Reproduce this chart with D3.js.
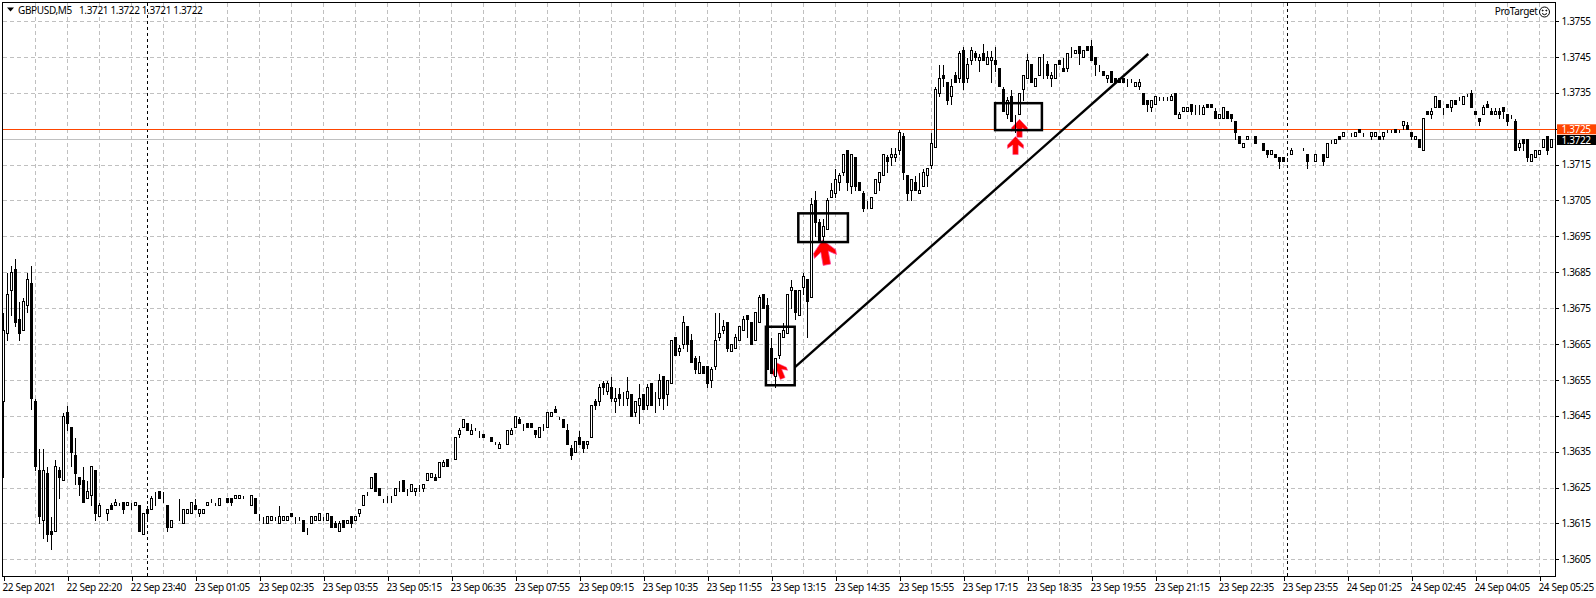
<!DOCTYPE html>
<html><head><meta charset="utf-8">
<script src="https://cdn.jsdelivr.net/npm/d3@7/dist/d3.min.js"></script>
<style>
html,body{margin:0;padding:0;background:#fff;overflow:hidden}
svg{display:block}
text{font-family:"Noto Sans",sans-serif;font-size:10px;letter-spacing:-0.35px;fill:#000}
</style></head><body><div id="chart"></div>
<script>
// Prices are stored as pips above 1.3600 and converted with toPrice
const basePrice = 1.36;
const opens = [
49,68,80,86,72,69,76,82,49,30, 16,29,13,13,30,27,46,42,34,28, 27,22,23,30,17,19,18,20,20,20, 21,20,21,20,20,12,19,19,23,24,
21,20,14,15,16,15,18,18,20,18, 18,20,22,21,20,21,22,22,22,22, 22,21,20,22,17,17,15,16,16,15, 16,16,18,16,17,16,14,15,16,16,
17,16,17,15,13,16,15,17,16,18, 20,24,25,29,25,22,21,22,23,26, 27,25,24,24,25,25,27,28,28,28, 31,33,32,33,40,42,43,40,42,41,
40,38,39,37,36,36,37,40,42,44, 42,43,43,41,39,41,42,45,47,45, 44,41,36,35,39,38,37,39,49,49, 54,52,53,49,51,51,50,51,46,48,
51,48,54,49,50,56,51,54,67,63, 65,70,66,61,57,59,59,55,59,67, 69,71,63,64,66,69,73,71,66,71, 79,76,64,56,62,67,68,80,80,73,
81,83,78,105,99,95,97,106,107,110, 113,119,109,117,110,107,104,103,107,110, 112,117,117,117,119,123,112,108,110,107, 109,112,115,120,135,140,138,134,140,139,
147,139,144,146,144,146,143,144,144,142, 136,129,134,128,129,136,139,143,137,140, 144,143,139,139,144,142,142,147,146,148, 145,148,148,145,142,141,139,141,139,139,
139,139,138,137,137,135,133,131,132,133, 134,134,133,135,128,130,130,132,131,130, 129,132,132,130,128,128,130,129,127,123, 120,122,122,123,122,121,119,118,118,117,
117,117,118,118,119,119,118,117,116,119, 118,117,122,121,123,123,123,124,123,125, 123,122,123,123,123,123,125,124,125,125, 126,126,124,122,122,119,130,129,131,133,
130,132,131,133,134,132,135,135,130,128, 129,132,130,129,130,131,129,129,127,120, 122,122,116,117,118,120,123,120];
const closes = [
69,79,85,71,68,77,83,50,31,17, 30,12,12,31,28,45,43,35,29,26, 21,24,31,18,20,19,19,19,21,20, 19,21,21,21,13,18,18,22,23,22,
21,14,16,15,16,19,19,21,19,19, 19,21,22,21,22,21,21,21,23,23, 22,21,23,18,17,17,17,17,16,17, 17,17,17,16,17,13,14,17,17,18,
17,18,14,14,15,14,16,15,17,19, 23,24,28,24,23,22,21,22,25,26, 24,25,26,25,25,26,29,29,27,32, 32,31,32,39,41,44,41,41,42,41,
39,38,38,37,37,36,41,41,45,43, 42,42,42,40,42,41,46,46,46,45, 42,37,34,38,37,36,38,48,48,53, 53,54,50,50,50,51,52,45,49,50,
47,53,48,49,55,50,55,66,62,64, 71,65,60,58,60,57,54,58,66,68, 70,64,65,67,70,72,72,65,74,78, 75,58,57,61,68,69,79,81,74,80,
84,77,104,99,94,98,105,108,111,112, 118,110,118,109,108,103,104,106,111,113, 118,116,118,118,124,113,107,111,108,108, 113,114,121,136,139,139,133,137,138,146,
138,143,147,145,145,144,145,145,143,137, 130,133,127,128,135,140,144,138,139,145, 144,140,140,143,143,141,146,147,147,146, 147,147,144,143,142,140,140,138,138,138,
138,139,138,138,138,132,132,133,134,133, 134,134,134,129,129,131,131,130,131,130, 131,131,131,128,129,131,128,128,124,121, 121,123,122,121,122,119,118,119,117,116,
116,117,119,118,119,119,116,117,118,119, 116,121,122,122,122,124,123,124,124,124, 123,122,124,124,122,124,125,124,124,125, 127,125,123,123,120,128,129,130,134,131,
130,131,133,132,134,134,135,131,129,127, 131,131,129,130,129,130,127,129,119,121, 121,117,118,119,119,122,119,122];
const highs = [
74,85,87,89,77,78,85,87,50,36, 36,31,17,33,31,46,48,42,39,28, 31,27,31,30,21,19,19,21,22,21, 21,21,21,21,20,18,20,23,24,24,
24,20,16,15,22,19,19,21,22,19, 19,21,22,21,22,21,22,22,23,23, 23,21,23,22,18,17,17,17,17,20, 17,17,18,17,17,16,14,17,17,18,
17,18,17,16,16,16,16,17,17,19, 23,24,28,29,25,22,23,23,25,27, 27,25,26,25,26,26,29,29,29,32, 33,33,32,39,42,44,43,43,42,41,
40,38,39,38,38,36,41,42,45,45, 43,43,43,41,42,43,46,46,48,45, 44,43,37,38,41,38,38,48,50,54, 55,55,56,53,53,52,56,51,49,54,
51,54,54,52,57,56,55,66,67,65, 73,70,68,62,62,59,59,59,74,74, 72,71,65,68,70,73,73,71,74,79, 79,78,67,61,68,71,79,83,80,80,
85,83,106,108,100,100,106,110,114,113, 118,119,118,117,110,108,105,106,111,113, 118,118,120,120,125,124,112,111,112,113, 114,114,124,137,143,143,138,139,141,147,
148,145,148,147,146,149,147,147,148,142, 137,134,136,129,135,140,146,143,139,145, 146,144,141,143,144,145,146,148,147,148, 147,148,150,145,143,141,140,141,139,139,
139,139,139,138,139,135,133,133,134,134, 134,134,135,135,130,131,131,132,132,132, 132,132,132,131,129,131,130,129,127,123, 121,123,122,123,122,121,119,119,118,117,
117,117,120,118,119,120,118,117,118,119, 118,121,122,122,123,124,123,124,124,125, 124,122,124,124,123,124,125,125,125,125, 127,127,124,123,122,128,130,131,134,133,
131,132,133,133,134,134,135,136,130,128, 132,133,131,131,131,131,129,129,128,122, 122,122,118,119,119,122,123,122];
const lows = [
28,66,73,70,66,69,74,47,30,15, 11,10,8,13,22,27,41,31,26,23, 21,22,20,16,17,19,16,19,20,20, 18,20,19,20,13,12,16,19,20,22,
21,13,14,15,16,15,18,18,19,17, 18,20,21,20,20,21,21,20,22,22, 22,21,20,18,16,15,15,16,16,15, 16,16,17,15,16,13,12,15,16,16,
16,16,14,14,13,14,15,14,16,17, 20,23,25,24,23,21,21,21,23,24, 24,23,24,23,24,24,27,28,27,28, 31,31,32,33,39,42,41,40,41,39,
39,38,38,37,36,36,37,40,42,43, 41,42,42,39,39,41,42,45,46,44, 42,37,33,35,37,35,36,39,47,48, 51,51,49,46,48,48,48,45,45,43,
47,47,48,46,48,47,48,54,62,62, 64,63,60,57,57,57,53,53,58,66, 68,63,63,64,66,69,67,65,66,71, 75,58,57,53,61,67,68,75,72,73,
79,67,78,95,94,94,97,106,106,108, 112,108,107,108,108,102,103,103,107,108, 112,113,115,116,118,111,105,105,108,107, 109,109,114,120,134,137,132,132,138,138,
136,138,143,144,141,144,143,138,141,137, 130,128,127,124,129,133,139,138,137,140, 139,139,137,139,143,141,141,145,146,143, 145,147,144,140,141,140,138,138,138,138,
138,137,138,137,136,132,130,130,132,133, 133,133,133,129,128,130,130,129,129,129, 129,131,131,128,128,128,128,127,122,121, 120,122,122,121,122,119,117,118,117,114,
116,116,118,118,119,119,114,117,116,119, 115,117,121,121,122,123,123,123,123,124, 123,122,122,123,122,122,124,124,124,124, 125,125,122,122,120,119,129,128,131,131,
129,131,130,132,133,132,134,131,129,126, 129,131,129,129,128,128,126,128,119,119, 119,116,116,117,118,120,118,120];

const priceTicks = ["1.3755","1.3745","1.3735","1.3725","1.3715","1.3705","1.3695","1.3685","1.3675","1.3665","1.3655","1.3645","1.3635","1.3625","1.3615","1.3605"];
const timeLabels = ["22 Sep 2021","22 Sep 22:20","22 Sep 23:40","23 Sep 01:05","23 Sep 02:35","23 Sep 03:55","23 Sep 05:15","23 Sep 06:35","23 Sep 07:55","23 Sep 09:15","23 Sep 10:35","23 Sep 11:55","23 Sep 13:15","23 Sep 14:35","23 Sep 15:55","23 Sep 17:15","23 Sep 18:35","23 Sep 19:55","23 Sep 21:15","23 Sep 22:35","23 Sep 23:55","24 Sep 01:25","24 Sep 02:45","24 Sep 04:05","24 Sep 05:25"];
const barsPerLabel = 16;
const daySeparators = [36, 321];
const bidPrice = 1.3722, markerPrice = 1.3725;
// annotations in [bar, pips] space
const boxes = [[190.6,69.8,197.8,53.5],[198.7,101.4,211.1,93.4],[247.9,132.1,259.6,124.6]];
const trendLine = [[197.8,58.5],[286.2,145.8]];
const arrows = [[193.2,59.8,-22,0.95],[204.75,94,-10,1.4],[254,127.6,0,1],[253,122.8,0,1]];

const toPrice = p => basePrice + p / 10000;
const W = 1596, H = 598;
const plot = {left:2.5, top:2.5, right:1555.5, bottom:576.5};

const x = d3.scaleLinear().domain([0, 387]).range([3.5, 3.5 + 4 * 387]);
const y = d3.scaleLinear().domain([1.3605, 1.3755]).range([559.3, 21]);
const py = v => Math.round(y(v)) + 0.5;

const svg = d3.select("#chart").append("svg").attr("width", W).attr("height", H);

// grid
const grid = svg.append("g").attr("stroke", "#c0c0c0").attr("stroke-dasharray", "4,3").attr("shape-rendering", "crispEdges");
grid.selectAll("line.h").data(priceTicks).join("line")
  .attr("x1", plot.left).attr("x2", plot.right)
  .attr("y1", d => py(+d)).attr("y2", d => py(+d));
grid.selectAll("line.v").data(d3.range(1, 49)).join("line").attr("class", "v")
  .attr("x1", d => x(d * barsPerLabel / 2)).attr("x2", d => x(d * barsPerLabel / 2))
  .attr("y1", plot.top).attr("y2", plot.bottom);

// day separators
svg.append("g").attr("stroke", "#000").attr("stroke-dasharray", "3,3").attr("shape-rendering", "crispEdges")
  .selectAll("line").data(daySeparators).join("line")
  .attr("x1", d => x(d)).attr("x2", d => x(d)).attr("y1", plot.top).attr("y2", plot.bottom);

// price lines
svg.append("line").attr("x1", plot.left).attr("x2", plot.right).attr("y1", py(bidPrice)).attr("y2", py(bidPrice))
  .attr("stroke", "#c0c0c0").attr("shape-rendering", "crispEdges");
svg.append("line").attr("x1", plot.left).attr("x2", plot.right).attr("y1", py(markerPrice)).attr("y2", py(markerPrice))
  .attr("stroke", "#ff4500").attr("shape-rendering", "crispEdges");

// arrows (under candles)
const arrowPath = "M0,0 L8,8.5 L8,12 L2.7,8.5 L2.7,18 L-2.7,18 L-2.7,8.5 L-8,12 L-8,8.5 Z";
svg.append("g").selectAll("path").data(arrows).join("path")
  .attr("d", arrowPath)
  .attr("transform", d => `translate(${x(d[0])},${y(toPrice(d[1]))}) rotate(${d[2]}) scale(${d[3]})`)
  .attr("fill", "#ff0000").attr("stroke", "#ff40a0").attr("stroke-width", 0.5);

// candles
const bars = d3.range(opens.length).map(i => ({i, o:opens[i], h:Math.max(highs[i],opens[i],closes[i]), l:Math.min(lows[i],opens[i],closes[i]), c:closes[i]}));
const cg = svg.append("g").attr("shape-rendering", "crispEdges");
const candle = cg.selectAll("g").data(bars).join("g");
candle.append("line").attr("x1", d => x(d.i)).attr("x2", d => x(d.i))
  .attr("y1", d => py(toPrice(d.h))).attr("y2", d => py(toPrice(d.l)) + 0.5).attr("stroke", "#000");
candle.append("rect")
  .attr("x", d => x(d.i) - 1).attr("width", 2)
  .attr("y", d => py(toPrice(Math.max(d.o, d.c))))
  .attr("height", d => Math.max(0, py(toPrice(Math.min(d.o, d.c))) - py(toPrice(Math.max(d.o, d.c)))))
  .attr("fill", d => d.c > d.o ? "#fff" : "#000").attr("stroke", "#000");

// boxes and trend line
svg.append("g").selectAll("rect").data(boxes).join("rect")
  .attr("x", d => x(d[0])).attr("y", d => y(toPrice(d[1])))
  .attr("width", d => x(d[2]) - x(d[0])).attr("height", d => y(toPrice(d[3])) - y(toPrice(d[1])))
  .attr("fill", "none").attr("stroke", "#000").attr("stroke-width", 2.5);
svg.append("path").attr("d", d3.line().x(d => x(d[0])).y(d => y(toPrice(d[1])))(trendLine))
  .attr("stroke", "#000").attr("stroke-width", 2.4).attr("fill", "none");

// frame
svg.append("rect").attr("x", plot.left).attr("y", plot.top)
  .attr("width", plot.right - plot.left).attr("height", plot.bottom - plot.top)
  .attr("fill", "none").attr("stroke", "#000").attr("shape-rendering", "crispEdges");

// axes
const yAxis = d3.axisRight(y).tickValues(priceTicks.map(Number)).tickFormat(d3.format(".4f")).tickSize(3).tickPadding(3);
const ga = svg.append("g").attr("transform", `translate(${plot.right},0)`).call(yAxis);
ga.select(".domain").remove();
ga.selectAll(".tick line").attr("y1", 0).attr("shape-rendering", "crispEdges");
ga.selectAll("text").attr("fill", "#000");
// the tick at the marker price is covered by its tag in the reference
ga.selectAll(".tick").filter(d => Math.abs(d - markerPrice) < 1e-6).select("text").remove();

const xAxis = d3.axisBottom(x).tickValues(timeLabels.map((_, k) => k * barsPerLabel))
  .tickFormat((_, k) => timeLabels[k]).tickSize(4).tickPadding(3);
const gx = svg.append("g").attr("transform", `translate(0,${plot.bottom})`).call(xAxis);
gx.select(".domain").remove();
gx.selectAll(".tick line").attr("shape-rendering", "crispEdges");
gx.selectAll("text").attr("text-anchor", "start").attr("x", -1.5).attr("fill", "#000");

// price tags
const tags = [[markerPrice, "#ff4500"], [bidPrice, "#000"]];
const tg = svg.append("g").selectAll("g").data(tags).join("g");
tg.append("rect").attr("x", 1557).attr("width", 39).attr("height", 10)
  .attr("y", (d, i) => i ? 135 : 124.3).attr("fill", d => d[1]);
tg.append("text").attr("x", 1561.5).attr("y", (d, i) => i ? 143.7 : 133).text(d => d[0].toFixed(4)).style("fill", "#fff");

// header
svg.append("path").attr("d", "M7,7.5 L14,7.5 L10.5,11.5 Z").attr("fill", "#000");
svg.append("text").attr("x", 18).attr("y", 13.5).text("GBPUSD,M5");
svg.append("text").attr("x", 79).attr("y", 13.5).text("1.3721 1.3722 1.3721 1.3722");
svg.append("text").attr("x", 1537.5).attr("y", 15).attr("text-anchor", "end").text("ProTarget");
const face = svg.append("g").attr("transform", "translate(1544.5,12)").attr("fill", "none").attr("stroke", "#000");
face.append("circle").attr("r", 5);
face.append("path").attr("d", "M-2.5,1.5 Q0,4 2.5,1.5");
face.append("circle").attr("cx", -1.8).attr("cy", -1.5).attr("r", 0.5).attr("fill", "#000");
face.append("circle").attr("cx", 1.8).attr("cy", -1.5).attr("r", 0.5).attr("fill", "#000");
</script></body></html>
